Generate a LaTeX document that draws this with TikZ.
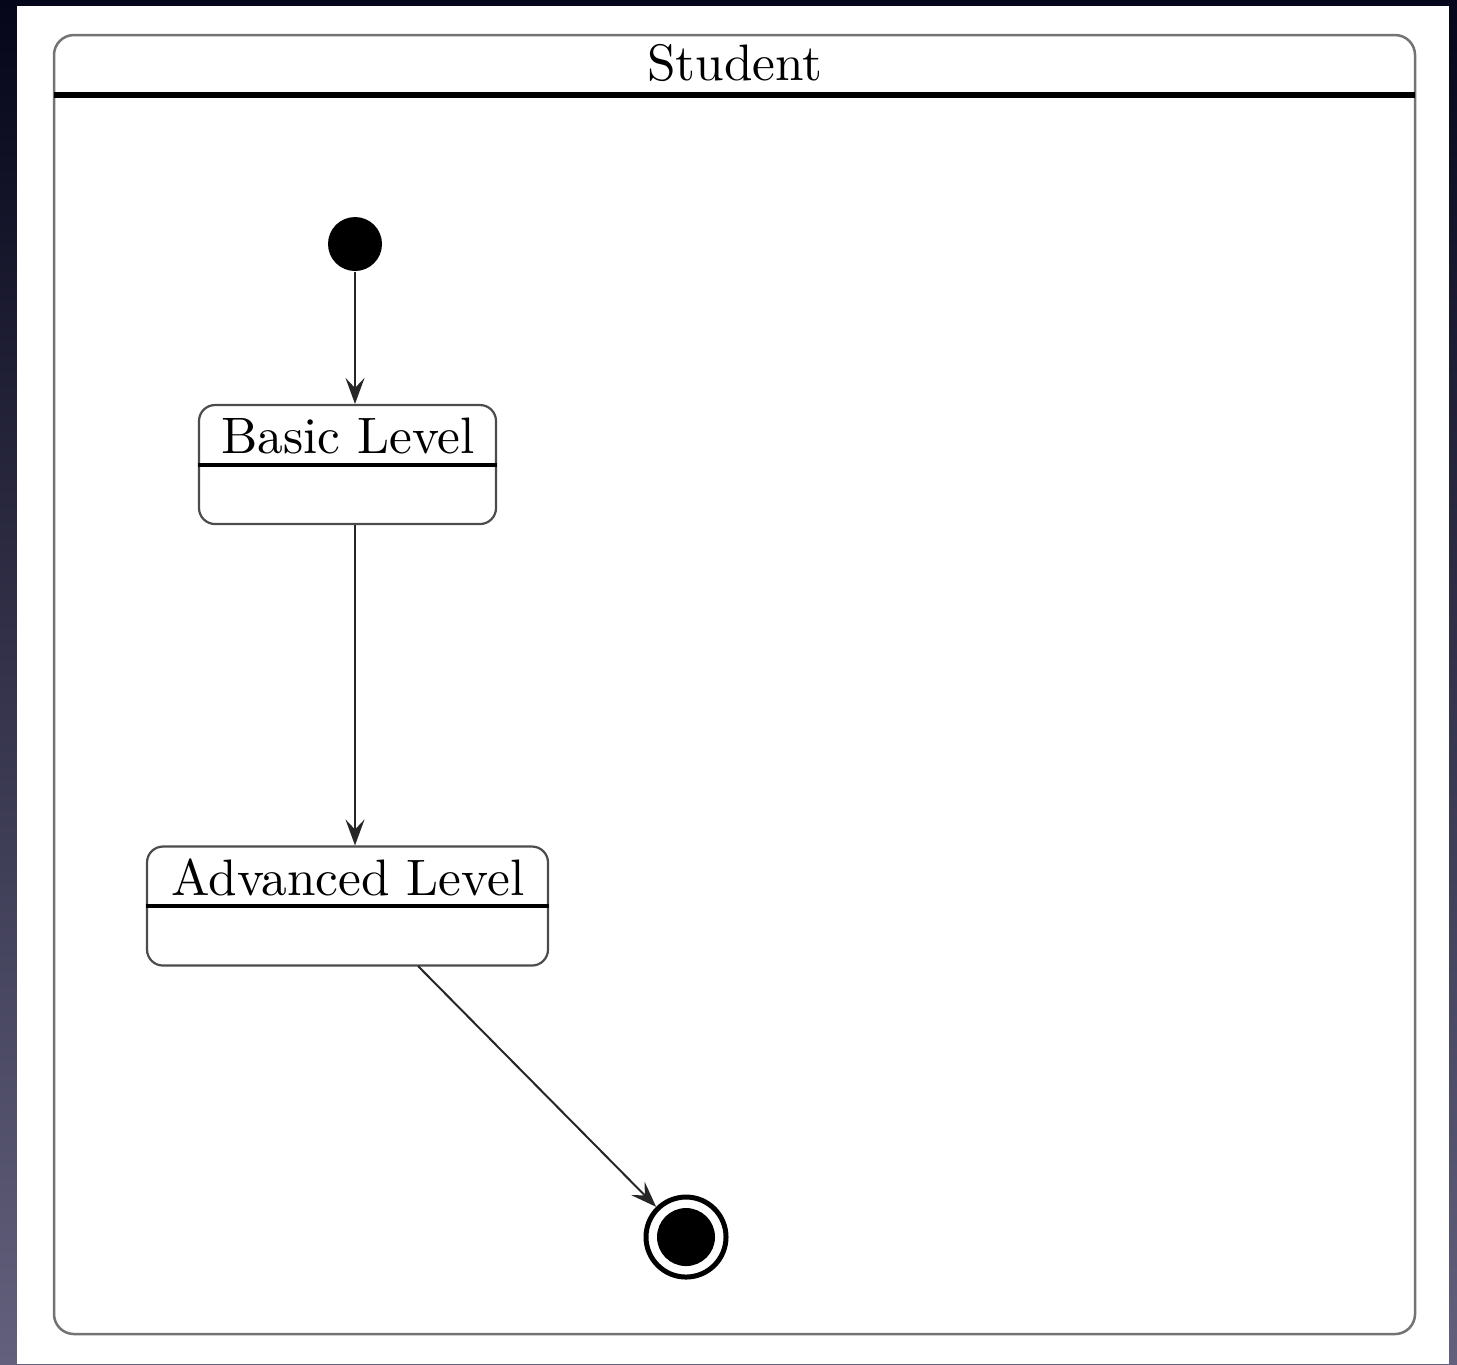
\documentclass[tikz,border=0pt]{standalone}
\usetikzlibrary{arrows.meta}
\newcommand\pxu{0.195pt}
\tikzset{
  container/.style={draw=black!55, line width=2.5*\pxu, rounded corners=20*\pxu, inner sep=0pt},
  statebox/.style={draw=black!70, line width=2.2*\pxu, rounded corners=16*\pxu, inner sep=0pt, minimum height=119*\pxu},
  divider/.style={draw=black, line width=3.2*\pxu},
  headline/.style={draw=black, line width=6*\pxu},
  trans/.style={draw=black!85, line width=2*\pxu, -{Stealth[length=26*\pxu, width=19*\pxu, inset=10*\pxu]}},
  initstate/.style={circle, fill=black, minimum size=54*\pxu, inner sep=0pt},
  finalring/.style={circle, draw=black, line width=5*\pxu, minimum size=80*\pxu, inner sep=0pt},
  finaldot/.style={circle, fill=black, minimum size=58*\pxu, inner sep=0pt},
  labeltext/.style={inner sep=0pt, font=\normalsize}
}
\begin{document}
\begin{tikzpicture}[x=\pxu, y=-\pxu]
\useasboundingbox (0,0) rectangle (1457,1364);
\shade[top color={rgb,255:red,6;green,6;blue,26}, bottom color={rgb,255:red,98;green,96;blue,124}] (0,0) rectangle (1457,1364);
\fill[white] (17,6) rectangle (1449,1364);
% container
\node[container, minimum width=1361*\pxu, minimum height=1299*\pxu] (student) at (734.5,684.5) {};
\coordinate (hl) at (54,95);
\coordinate (hr) at (1415,95);
\draw[headline] (hl) -- (hr);
\node[labeltext] (title) at (735,63) {Student};
% initial
\node[initstate] (init) at (355,244) {};
% basic level
\node[statebox, minimum width=297*\pxu] (basic) at (347.5,464.5) {};
\node[labeltext] (basictext) at (348,436) {Basic Level};
\draw[divider] (basic.west |- 0,465) -- (basic.east |- 0,465);
% advanced level
\node[statebox, minimum width=401*\pxu] (adv) at (347.5,906) {};
\node[labeltext] (advtext) at (348,877) {Advanced Level};
\draw[divider] (adv.west |- 0,906) -- (adv.east |- 0,906);
% final
\node[finalring] (final) at (686,1237) {};
\node[finaldot] (finaldot) at (final.center) {};
% transitions
\draw[trans] (init) -- (init |- basic.north);
\draw[trans] (basic.south -| init) -- (adv.north -| init);
\coordinate (advout) at (418,966);
\draw[trans] (advout) -- (final);
\end{tikzpicture}
\end{document}
